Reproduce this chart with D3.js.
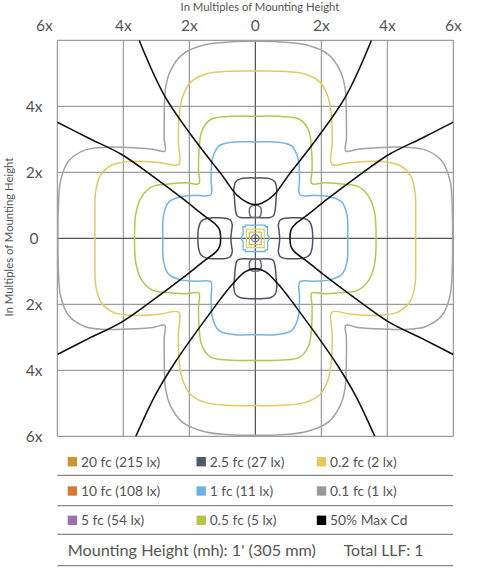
<!DOCTYPE html>
<html>
<head>
<meta charset="utf-8">
<script src="https://cdn.jsdelivr.net/npm/d3@7/dist/d3.min.js"></script>
<style>
  body { margin: 0; background: #fff; }
  svg { display: block; font-family: Lato, "Open Sans", sans-serif; }
</style>
</head>
<body>
<svg id="chart" width="483" height="585"></svg>
<script>
// axis ticks (multiples of mounting height)
var xTickVals = [-6, -4, -2, 0, 2, 4, 6];
var xTickLabels = ["6x", "4x", "2x", "0", "2x", "4x", "6x"];
var yTickVals = [4, 2, 0, -2, -4, -6];
var yTickLabels = ["4x", "2x", "0", "2x", "4x", "6x"];

// isolux contours, one quadrant each [u, v], from top axis to right axis
var fc01Quad = [[0, 5.97], [0.6, 5.96], [1.5, 5.87], [2.2, 5.58], [2.57, 5.08], [2.72, 4.55], [2.76, 3.6], [2.76, 3.0], [2.74, 2.64],
                [3.1, 2.7], [3.6, 2.74], [4.55, 2.76], [5.15, 2.68], [5.65, 2.35], [5.9, 1.75], [5.97, 0.85], [5.98, 0]];
var fc02Quad = [[0, 5.07], [0.8, 5.06], [1.5, 4.98], [1.95, 4.74], [2.2, 4.3], [2.31, 3.7], [2.33, 2.9], [2.32, 2.24],
                [2.9, 2.3], [3.8, 2.33], [4.35, 2.22], [4.7, 1.9], [4.84, 1.4], [4.86, 0.6], [4.86, 0]];
var fc05Quad = [[0, 3.7], [0.8, 3.69], [1.35, 3.6], [1.62, 3.25], [1.71, 2.6], [1.72, 2.05], [1.71, 1.66],
                [2.1, 1.68], [2.55, 1.65], [3.1, 1.58], [3.45, 1.25], [3.62, 0.75], [3.66, 0]];
var fc1Quad = [[0, 2.92], [0.62, 2.92], [1.1, 2.8], [1.3, 2.4], [1.34, 1.8], [1.35, 1.32],
               [1.8, 1.3], [2.25, 1.26], [2.62, 1.1], [2.78, 0.7], [2.8, 0]];

// 2.5 fc lobes: half outlines
var lobeTopHalf = [[0, 0.63], [0.45, 0.63], [0.55, 0.68], [0.6, 0.85], [0.63, 1.2], [0.65, 1.5], [0.6, 1.7], [0.45, 1.8], [0.2, 1.83], [0, 1.83]];
var lobeSideHalf = [[0.74, 0], [0.72, 0.22], [0.7, 0.42], [0.76, 0.56], [0.9, 0.61], [1.2, 0.62], [1.48, 0.6], [1.65, 0.5], [1.72, 0.3], [1.74, 0]];
var loopTopHalf = [[0, 0.63], [0.13, 0.65], [0.18, 0.78], [0.15, 0.95], [0, 1.0]];

// centre contours (quadrants)
var centreBlueQuad = [[0, 0.4], [0.3, 0.4], [0.3, 0.35], [0.37, 0.35], [0.37, 0.1], [0.42, 0.04], [0.42, 0]];
var centreYellowQuad = [[0, 0.28], [0.27, 0.28], [0.27, 0]];
var centreGreenQuad = [[0, 0.19], [0.18, 0.19], [0.18, 0]];
var centreCircleR = 0.11;

// 50% max candela traces [u, v]
var cdTopHalf = [[0, 1.02], [0.21, 1.07], [0.57, 1.32], [1.02, 1.93], [1.73, 2.84], [2.74, 4.3], [3.52, 6]];
var cdBottomHalf = [[0, 0.92], [0.3, 1.01], [0.71, 1.41], [1.41, 2.32], [2.42, 3.74], [3.03, 4.75], [3.62, 6]];
var cdSideHalf = [[1.05, 0], [1.08, 0.25], [1.2, 0.42], [1.53, 0.67], [2.2, 1.2], [3.04, 1.83], [4.05, 2.54], [5.06, 3.04], [6, 3.52]];

// legend
var legendLabels = ["20 fc (215 lx)", "10 fc (108 lx)", "5 fc (54 lx)",
                    "2.5 fc (27 lx)", "1 fc (11 lx)", "0.5 fc (5 lx)",
                    "0.2 fc (2 lx)", "0.1 fc (1 lx)", "50% Max Cd"];
var legendColors = ["#c8952e", "#d4793a", "#a06fae",
                    "#505a6c", "#6cb3e3", "#b6c548",
                    "#e6c75c", "#9a9a9a", "#000000"];
var footerLeft = "Mounting Height (mh): 1' (305 mm)";
var footerRight = "Total LLF: 1";

var svg = d3.select("#chart");
var x = d3.scaleLinear().domain([-6, 6]).range([57.3, 453.3]);
var y = d3.scaleLinear().domain([-6, 6]).range([436.3, 40.3]);

/**
 * Build a closed ring from one quadrant by mirroring it round both axes
 */
function fourWay(q) {
    var q4 = q.slice().reverse().map(function (p) { return [p[0], -p[1]]; });
    var q3 = q.map(function (p) { return [-p[0], -p[1]]; });
    var q2 = q.slice().reverse().map(function (p) { return [-p[0], p[1]]; });
    return q.concat(q4.slice(1), q3.slice(1), q2.slice(1, -1));
}
function mirrorU(half) {
    var other = half.slice().reverse().map(function (p) { return [-p[0], p[1]]; });
    return half.concat(other.slice(1, -1));
}
function flipV(pts) { return pts.map(function (p) { return [p[0], -p[1]]; }); }
function flipU(pts) { return pts.map(function (p) { return [-p[0], p[1]]; }); }

var closedLine = d3.line().x(function (d) { return x(d[0]); }).y(function (d) { return y(d[1]); })
        .curve(d3.curveCatmullRomClosed.alpha(0.5));
var sharpLine = d3.line().x(function (d) { return x(d[0]); }).y(function (d) { return y(d[1]); })
        .curve(d3.curveLinearClosed);
var openLine = d3.line().x(function (d) { return x(d[0]); }).y(function (d) { return y(d[1]); })
        .curve(d3.curveCatmullRom.alpha(0.5));

svg.append("defs").append("clipPath").attr("id", "plotClip")
        .append("rect")
        .attr("x", x(-6)).attr("y", y(6))
        .attr("width", x(6) - x(-6)).attr("height", y(-6) - y(6));

// grid
var grid = svg.append("g");
grid.selectAll("line.v").data(xTickVals).enter().append("line")
        .attr("x1", function (d) { return x(d); }).attr("x2", function (d) { return x(d); })
        .attr("y1", y(6)).attr("y2", y(-6))
        .attr("stroke", function (d) { return d === 0 ? "#2a2a2a" : "#858585"; })
        .attr("stroke-width", 1);
grid.selectAll("line.h").data([6, 4, 2, 0, -2, -4, -6]).enter().append("line")
        .attr("y1", function (d) { return y(d); }).attr("y2", function (d) { return y(d); })
        .attr("x1", x(-6)).attr("x2", x(6))
        .attr("stroke", function (d) { return d === 0 ? "#2a2a2a" : "#858585"; })
        .attr("stroke-width", 1);

var plot = svg.append("g").attr("clip-path", "url(#plotClip)")
        .attr("fill", "none").attr("stroke-width", 1.5);

// isolux rings
var rings = [
    {pts: fourWay(fc01Quad), color: "#a3a3a3"},
    {pts: fourWay(fc02Quad), color: "#e3c960"},
    {pts: fourWay(fc05Quad), color: "#b7c54d"},
    {pts: fourWay(fc1Quad), color: "#72b4e2"}
];
plot.selectAll("path.ring").data(rings).enter().append("path")
        .attr("d", function (d) { return closedLine(d.pts); })
        .attr("stroke", function (d) { return d.color; });

// 2.5 fc lobes
var topLobe = mirrorU(lobeTopHalf);
var sideLobe = flipV(lobeSideHalf.slice().reverse()).concat(lobeSideHalf.slice(1, -1));
var lobes = [topLobe, flipV(topLobe), sideLobe, flipU(sideLobe)];
plot.selectAll("path.lobe").data(lobes).enter().append("path")
        .attr("d", closedLine)
        .attr("stroke", "#4d5360");
var topLoop = mirrorU(loopTopHalf);
plot.selectAll("path.loop").data([topLoop, flipV(topLoop)]).enter().append("path")
        .attr("d", closedLine)
        .attr("stroke", "#6f6880");

// centre contours
plot.append("path").attr("d", sharpLine(fourWay(centreBlueQuad))).attr("stroke", "#6cb3e3").attr("stroke-width", 1.3);
plot.append("path").attr("d", sharpLine(fourWay(centreYellowQuad))).attr("stroke", "#e3cf5c").attr("stroke-width", 1.3);
plot.append("path").attr("d", sharpLine(fourWay(centreGreenQuad))).attr("stroke", "#c9c259").attr("stroke-width", 1.3);
plot.append("circle").attr("cx", x(0)).attr("cy", y(0))
        .attr("r", x(centreCircleR) - x(0))
        .attr("stroke", "#8a7a98").attr("stroke-width", 1.3);

// 50% max cd traces
var cdTop = flipU(cdTopHalf.slice().reverse()).concat(cdTopHalf.slice(1));
var cdBottom = flipV(flipU(cdBottomHalf.slice().reverse()).concat(cdBottomHalf.slice(1)));
var cdRight = flipV(cdSideHalf.slice().reverse()).concat(cdSideHalf.slice(1));
var traces = [cdTop, cdBottom, cdRight, flipU(cdRight)];
plot.selectAll("path.cd").data(traces).enter().append("path")
        .attr("d", openLine)
        .attr("stroke", "#111").attr("stroke-width", 1.6);

// axis labels
svg.append("text").attr("x", 260).attr("y", 11)
        .attr("text-anchor", "middle").attr("font-size", 11.3).attr("fill", "#555")
        .text("In Multiples of Mounting Height");
svg.selectAll("text.xt").data(xTickVals).enter().append("text")
        .attr("x", function (d, i) { return x(d) + (i === 0 ? -13 : 0); })
        .attr("y", 31)
        .attr("text-anchor", "middle").attr("font-size", 15.5).attr("fill", "#555")
        .text(function (d, i) { return xTickLabels[i]; });
svg.selectAll("text.yt").data(yTickVals).enter().append("text")
        .attr("x", 34).attr("y", function (d) { return y(d); })
        .attr("dy", "0.36em")
        .attr("text-anchor", "middle").attr("font-size", 15.5).attr("fill", "#555")
        .text(function (d, i) { return yTickLabels[i]; });
svg.append("text")
        .attr("transform", "translate(13,237) rotate(-90)")
        .attr("text-anchor", "middle").attr("font-size", 11.3).attr("fill", "#555")
        .text("In Multiples of Mounting Height");

// legend
var rowY = [461.7, 491, 520.3];
var colX = [67.7, 196.5, 316.8];
var legend = svg.append("g");
var items = legend.selectAll("g.item").data(legendLabels).enter().append("g")
        .attr("transform", function (d, i) {
            return "translate(" + colX[Math.floor(i / 3)] + "," + rowY[i % 3] + ")";
        });
items.append("rect").attr("x", 0).attr("y", -4.7).attr("width", 9.4).attr("height", 9.4)
        .attr("fill", function (d, i) { return legendColors[i]; });
items.append("text").attr("x", 13.3).attr("dy", "0.36em")
        .attr("font-size", 13.8).attr("fill", "#555")
        .text(function (d) { return d; });
legend.selectAll("line.sep").data([475.3, 505.7, 534.3, 565.7]).enter().append("line")
        .attr("x1", 57.3).attr("x2", 453)
        .attr("y1", function (d) { return d; }).attr("y2", function (d) { return d; })
        .attr("stroke", "#6a6a6a").attr("stroke-width", 1);
legend.append("text").attr("x", 67.7).attr("y", 550.5).attr("dy", "0.36em")
        .attr("font-size", 16.2).attr("fill", "#555").text(footerLeft);
legend.append("text").attr("x", 343.7).attr("y", 550.5).attr("dy", "0.36em")
        .attr("font-size", 15.8).attr("fill", "#555").text(footerRight);
</script>
</body>
</html>
